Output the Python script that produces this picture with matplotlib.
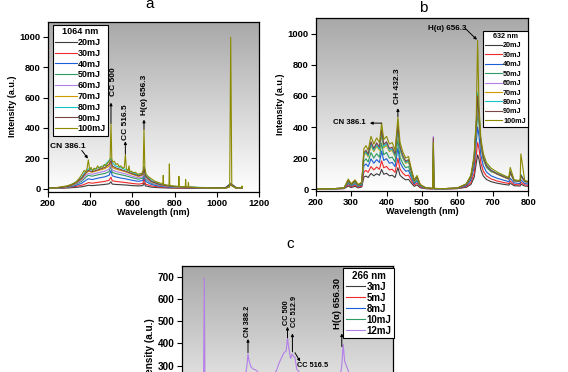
import numpy as np
import matplotlib
matplotlib.use("Agg")
import matplotlib.pyplot as plt
from matplotlib.colors import LinearSegmentedColormap

plt.rcParams["font.family"] = ["Liberation Sans", "DejaVu Sans"]
plt.rcParams["font.weight"] = "bold"
plt.rcParams["axes.labelweight"] = "bold"

# ---- panel a : 1064 nm ----
a_labels = ["20mJ", "30mJ", "40mJ", "50mJ", "60mJ", "70mJ", "80mJ", "90mJ", "100mJ"]
a_wl = [200, 260, 300, 330, 360, 380, 392, 410, 440, 470, 490, 499, 505, 520, 545,
        570, 600, 630, 650, 655, 662, 690, 730, 780, 850, 950, 1040, 1065, 1090, 1120]
a_20 = [2, 3, 5, 8, 12, 18, 22, 20, 24, 28, 32, 45, 30, 28, 26, 24, 20, 18, 20, 40, 18, 10, 6, 4, 3, 2, 2, 25, 3, 2]
a_30 = [3, 4, 8, 14, 22, 32, 40, 36, 42, 48, 55, 75, 52, 48, 44, 40, 34, 30, 34, 70, 30, 18, 10, 6, 4, 3, 3, 28, 4, 3]
a_40 = [3, 5, 10, 20, 35, 55, 65, 60, 70, 78, 88, 120, 85, 78, 70, 64, 55, 48, 55, 100, 48, 28, 15, 9, 6, 4, 4, 30, 5, 4]
a_50 = [4, 6, 12, 26, 48, 75, 88, 82, 92, 100, 112, 150, 108, 100, 92, 84, 72, 62, 70, 120, 62, 36, 20, 12, 8, 5, 5, 30, 6, 4]
a_60 = [4, 6, 14, 30, 56, 88, 100, 95, 105, 115, 128, 165, 122, 114, 105, 96, 82, 70, 80, 130, 70, 40, 22, 13, 9, 6, 6, 32, 6, 5]
a_70 = [5, 7, 15, 34, 64, 100, 115, 108, 120, 132, 148, 180, 140, 130, 120, 110, 94, 80, 92, 140, 80, 46, 26, 15, 10, 6, 6, 32, 7, 5]
a_80 = [5, 8, 18, 40, 75, 115, 130, 122, 138, 155, 185, 200, 170, 150, 138, 125, 106, 90, 105, 145, 90, 52, 30, 17, 11, 7, 7, 35, 8, 6]
a_90 = [5, 7, 16, 36, 68, 105, 120, 112, 125, 140, 160, 185, 150, 138, 126, 114, 98, 84, 95, 140, 82, 48, 27, 16, 10, 6, 6, 33, 7, 5]
a_wl_100 = [200, 230, 260, 290, 315, 335, 350, 362, 372, 380, 386, 392, 398, 405, 412, 420, 428, 436,
            444, 452, 460, 468, 476, 484, 490, 495, 499, 503, 508, 515, 522, 530, 538, 546, 554, 562,
            567, 572, 580, 584, 588, 596, 605, 615, 625, 635, 645, 651, 655, 659, 665, 675, 690, 705,
            720, 735, 744, 746, 748, 760, 773, 775, 777, 790, 805, 818, 820, 822, 840, 850, 852, 854,
            863, 865, 867, 885, 900, 930, 970, 1010, 1045, 1060, 1065, 1070, 1085, 1100, 1115, 1118, 1120]
a_100 = [6, 4, 12, 18, 30, 45, 70, 95, 120, 110, 135, 190, 125, 140, 118, 135, 128, 150,
         132, 145, 140, 160, 150, 172, 178, 195, 428, 195, 175, 180, 160, 165, 145, 150, 135, 140,
         224, 130, 118, 150, 112, 115, 105, 108, 95, 98, 100, 120, 390, 140, 95, 80, 65, 50,
         42, 35, 30, 88, 28, 25, 22, 163, 22, 18, 16, 15, 81, 14, 12, 12, 60, 11,
         10, 42, 10, 9, 8, 6, 5, 4, 4, 10, 997, 18, 6, 4, 5, 18, 6]

# ---- panel b : 632 nm ----
b_labels = ["20mJ", "30mJ", "40mJ", "50mJ", "60mJ", "70mJ", "80mJ", "90mJ", "100mJ"]
b_wl = [200, 250, 280, 292, 300, 311, 320, 330, 336, 342, 348, 356, 364, 372, 380, 386, 392, 400,
        408, 416, 424, 432, 438, 446, 454, 462, 470, 478, 486, 495, 510, 530, 532, 534, 560, 600,
        625, 638, 647, 653, 657, 661, 666, 673, 682, 695, 712, 730, 745, 749, 760, 777, 779, 790, 800]
b_20 = [0, 1, 3, 20, 10, 18, 8, 14, 78, 84, 75, 101, 86, 99, 89, 127, 96, 102, 86, 89,
        75, 138, 89, 72, 60, 63, 39, 18, 27, 9, 3, 1, 80, 1, 1, 3, 12, 30, 75, 165,
        220, 190, 125, 85, 62, 48, 38, 31, 26, 38, 22, 20, 32, 20, 18]
b_30 = [0, 2, 4, 28, 15, 26, 12, 20, 112, 120, 108, 145, 124, 142, 128, 182, 138, 146, 124, 128,
        108, 198, 128, 103, 86, 90, 56, 26, 39, 13, 4, 2, 120, 2, 1, 4, 16, 42, 100, 220,
        300, 260, 170, 115, 85, 66, 52, 43, 36, 52, 30, 27, 45, 27, 25]
b_40 = [0, 2, 5, 38, 20, 35, 17, 27, 150, 162, 145, 195, 167, 190, 172, 245, 185, 196, 167, 172,
        145, 265, 172, 138, 115, 120, 75, 35, 52, 18, 6, 3, 160, 3, 2, 5, 22, 58, 140, 300,
        400, 340, 220, 150, 110, 86, 70, 58, 48, 70, 40, 36, 60, 36, 33]
b_50 = [0, 2, 6, 45, 24, 42, 20, 32, 180, 195, 175, 235, 200, 228, 206, 295, 222, 236, 200, 206,
        174, 320, 206, 165, 138, 145, 90, 42, 62, 21, 7, 3, 200, 3, 2, 6, 28, 72, 170, 360,
        480, 420, 280, 190, 140, 112, 100, 85, 70, 100, 56, 52, 80, 52, 48]
b_60 = [0, 3, 8, 60, 30, 55, 26, 40, 228, 245, 220, 298, 255, 290, 262, 372, 282, 298, 255, 262,
        220, 405, 262, 210, 175, 185, 115, 53, 77, 26, 9, 4, 340, 4, 3, 7, 30, 80, 195, 410,
        560, 470, 300, 205, 152, 120, 98, 80, 66, 108, 53, 49, 90, 49, 45]
b_70 = [0, 3, 7, 50, 27, 48, 24, 37, 218, 232, 208, 282, 242, 276, 250, 352, 266, 282, 242, 250,
        208, 385, 250, 200, 166, 175, 108, 50, 72, 25, 8, 4, 260, 4, 3, 7, 30, 78, 190, 400,
        600, 480, 300, 200, 150, 118, 96, 78, 65, 105, 52, 48, 88, 48, 44]
b_80 = [0, 3, 7, 52, 28, 50, 25, 38, 225, 240, 215, 290, 250, 285, 258, 365, 275, 292, 250, 258,
        215, 395, 258, 206, 172, 180, 112, 52, 75, 26, 9, 4, 280, 4, 3, 7, 32, 85, 200, 420,
        620, 500, 310, 210, 155, 122, 100, 82, 68, 115, 55, 50, 95, 50, 46]
b_90 = [0, 3, 7, 55, 30, 52, 26, 40, 235, 250, 225, 305, 262, 298, 270, 380, 288, 305, 262, 270,
        225, 410, 270, 216, 180, 190, 117, 55, 78, 27, 9, 4, 330, 4, 3, 7, 30, 80, 195, 400,
        600, 470, 300, 205, 150, 120, 98, 80, 66, 110, 54, 50, 90, 50, 45]
b_100 = [0, 3, 8, 65, 35, 60, 30, 45, 260, 280, 250, 340, 290, 330, 300, 425, 320, 340, 290, 300,
         250, 462, 300, 240, 200, 210, 130, 60, 88, 30, 10, 5, 300, 5, 3, 8, 35, 90, 220, 450,
         957, 530, 330, 230, 170, 135, 110, 90, 75, 140, 60, 55, 227, 55, 50]

# ---- panel c : 266 nm ----
c_labels = ["3mJ", "5mJ", "8mJ", "10mJ", "12mJ"]
c_wl = [200, 230, 255, 262, 264, 266, 280, 320, 360, 380, 385, 388, 391, 396, 402, 410, 420, 440,
        460, 468, 476, 483, 490, 496, 500, 504, 509, 513, 517, 521, 526, 540, 570, 610, 640, 650,
        654, 658, 662, 675, 720, 800]
c_3 = [40, 42, 44, 46, 100, 46, 47, 49, 51, 55, 62, 70, 63, 58, 56, 55, 53, 52, 53, 55,
       60, 63, 66, 67, 75, 68, 61, 64, 62, 61, 55, 52, 50, 49, 50, 52, 58, 72, 61, 53, 50, 47]
c_5 = [70, 74, 77, 80, 150, 80, 82, 86, 90, 96, 108, 120, 110, 102, 99, 97, 94, 91, 93, 97,
       105, 111, 116, 118, 130, 120, 108, 113, 110, 108, 97, 91, 88, 86, 88, 92, 103, 125, 107, 94, 88, 83]
c_8 = [110, 115, 120, 125, 200, 125, 128, 134, 140, 150, 168, 185, 172, 160, 155, 152, 148, 143, 146, 152,
       165, 174, 182, 185, 200, 188, 170, 178, 172, 170, 152, 143, 139, 136, 139, 145, 162, 190, 168, 148, 139, 130]
c_10 = [150, 158, 165, 172, 240, 172, 176, 184, 192, 205, 230, 250, 238, 222, 215, 212, 205, 198, 202, 210,
        228, 238, 245, 248, 250, 246, 236, 244, 240, 238, 212, 198, 192, 188, 192, 200, 225, 250, 232, 205, 192, 180]
c_12 = [180, 190, 200, 210, 695, 210, 215, 225, 235, 250, 300, 352, 322, 295, 285, 280, 265, 255, 262, 275,
        311, 335, 358, 365, 422, 375, 332, 352, 340, 338, 285, 255, 245, 240, 245, 260, 300, 395, 320, 265, 245, 230]

colors9 = ["#3c3c3c", "#f02a2a", "#1b5fd6", "#2f9a62", "#b47ee8", "#d29a00", "#14c4c4", "#7a4646", "#8c8a00"]
colors5 = ["#3c3c3c", "#f02a2a", "#1b5fd6", "#2f9a62", "#b47ee8"]

bg_cmap = LinearSegmentedColormap.from_list("bg", ["white", "#a8a8a8"])


def shade(ax):
    grad = np.linspace(1, 0, 256).reshape(-1, 1)
    ax.imshow(grad, cmap=bg_cmap, vmin=0, vmax=1, aspect="auto", extent=[0, 1, 0, 1],
              transform=ax.transAxes, zorder=0)


def style(ax, size):
    for s in ax.spines.values():
        s.set_linewidth(0.9)
    ax.tick_params(direction="out", length=3.5, width=0.8, labelsize=size, pad=1.5)


def arrow(ax, start, end):
    ax.annotate("", xy=end, xytext=start,
                arrowprops=dict(arrowstyle="-|>", lw=0.7, color="black", mutation_scale=4,
                                shrinkA=0, shrinkB=0))


fig = plt.figure(figsize=(5.68, 3.72), dpi=100)

# ---------- a ----------
ax = fig.add_axes([0.0840, 0.4847, 0.3725, 0.4570])
shade(ax)
for x, y, lab, col in zip([a_wl] * 8 + [a_wl_100],
                          [a_20, a_30, a_40, a_50, a_60, a_70, a_80, a_90, a_100],
                          a_labels, colors9):
    ax.plot(x, y, color=col, lw=0.8, label=lab, zorder=2)
ax.set_xlim(200, 1200)
ax.set_ylim(-20, 1100)
ax.set_xticks([200, 400, 600, 800, 1000, 1200])
ax.set_yticks([0, 200, 400, 600, 800, 1000])
ax.set_xlabel("Wavelength (nm)", fontsize=6.5, labelpad=0.5)
ax.set_ylabel("Intensity (a.u.)", fontsize=6.5, labelpad=2)
style(ax, 6.8)
leg = ax.legend(title="1064 nm", loc="upper left", bbox_to_anchor=(0.025, 0.981), fontsize=6.5,
                title_fontproperties={"weight": "bold", "size": 6.5}, fancybox=False,
                edgecolor="black", framealpha=1, borderpad=0.25, labelspacing=0.2,
                handlelength=2.4, handletextpad=0.1, borderaxespad=0)
leg.get_frame().set_linewidth(0.8)
ax.text(296, 279, "CN 386.1", fontsize=6, ha="center", va="center")
arrow(ax, (361, 252), (390, 198))
ax.text(510, 705, "CC 500", fontsize=6, rotation=90, ha="center", va="center")
arrow(ax, (499, 430), (499, 567))
ax.text(570, 438, "CC 516.5", fontsize=6, rotation=90, ha="center", va="center")
arrow(ax, (567, 228), (567, 312))
ax.text(658, 620, "H(α) 656.3", fontsize=6, rotation=90, ha="center", va="center")
arrow(ax, (655, 392), (655, 455))

# ---------- b ----------
ax = fig.add_axes([0.5558, 0.4874, 0.3743, 0.4634])
shade(ax)
for y, lab, col in zip([b_20, b_30, b_40, b_50, b_60, b_70, b_80, b_90, b_100], b_labels, colors9):
    ax.plot(b_wl, y, color=col, lw=0.8, label=lab, zorder=2)
ax.set_xlim(200, 800)
ax.set_ylim(-10, 1100)
ax.set_xticks([200, 300, 400, 500, 600, 700, 800])
ax.set_yticks([0, 200, 400, 600, 800, 1000])
ax.set_xlabel("Wavelength (nm)", fontsize=6.5, labelpad=0.5)
ax.set_ylabel("Intensity (a.u.)", fontsize=6.5, labelpad=2)
style(ax, 6.8)
leg = ax.legend(title="632 nm", loc="upper left", bbox_to_anchor=(0.788, 0.928), fontsize=5.2,
                title_fontproperties={"weight": "bold", "size": 5.2}, fancybox=False,
                edgecolor="black", framealpha=1, borderpad=0.3, labelspacing=0.33,
                handlelength=2.3, handletextpad=0.15, borderaxespad=0)
leg.get_frame().set_linewidth(0.8)
ax.text(572, 1037, "H(α) 656.3", fontsize=5.8, ha="center", va="center")
arrow(ax, (622, 1035), (655, 962))
ax.text(431, 666, "CH 432.3", fontsize=6, rotation=90, ha="center", va="center")
arrow(ax, (432, 467), (432, 521))
ax.text(294, 429, "CN 386.1", fontsize=5.6, ha="center", va="center")
arrow(ax, (386, 425), (353, 425))

# ---------- c (runs off the bottom of the figure) ----------
ax = fig.add_axes([0.3199, -0.1766, 0.3725, 0.4624])
shade(ax)
for y, lab, col in zip([c_3, c_5, c_8, c_10, c_12], c_labels, colors5):
    ax.plot(c_wl, y, color=col, lw=0.8, label=lab, zorder=2)
ax.set_xlim(200, 800)
ax.set_ylim(-25, 750)
ax.set_yticks([300, 400, 500, 600, 700])
ax.set_ylabel("Intensity (a.u.)", fontsize=7.2, labelpad=2)
style(ax, 7.2)
ax.tick_params(axis="x", bottom=False, labelbottom=False)
leg = ax.legend(title="266 nm", loc="upper left", bbox_to_anchor=(0.764, 0.985), fontsize=7,
                title_fontproperties={"weight": "bold", "size": 7}, fancybox=False,
                edgecolor="black", framealpha=1, borderpad=0.25, labelspacing=0.1,
                handlelength=2.0, handletextpad=0.15, borderaxespad=0)
leg.get_frame().set_linewidth(0.8)
ax.text(388, 499, "CN 388.2", fontsize=5.3, rotation=90, ha="center", va="center")
arrow(ax, (388, 358), (388, 420))
ax.text(497, 536, "CC 500", fontsize=5.3, rotation=90, ha="center", va="center")
arrow(ax, (500, 425), (500, 475))
ax.text(521, 545, "CC 512.9", fontsize=5.3, rotation=90, ha="center", va="center")
arrow(ax, (514, 362), (514, 445))
ax.text(571, 299, "CC 516.5", fontsize=5.3, ha="center", va="center")
arrow(ax, (521, 358), (536, 318))
ax.text(642, 581, "H(α) 656.30", fontsize=6.8, rotation=90, ha="center", va="center")
arrow(ax, (654, 385), (654, 445))

fig.text(150 / 568, 1 - 8.3 / 372, "a", fontsize=11, fontweight="normal", ha="center", va="baseline")
fig.text(423 / 568, 1 - 11.7 / 372, "b", fontsize=11, fontweight="normal", ha="center", va="baseline")
fig.text(290 / 568, 1 - 248.3 / 372, "c", fontsize=11, fontweight="normal", ha="center", va="baseline")

fig.savefig("out.png", dpi=100)
